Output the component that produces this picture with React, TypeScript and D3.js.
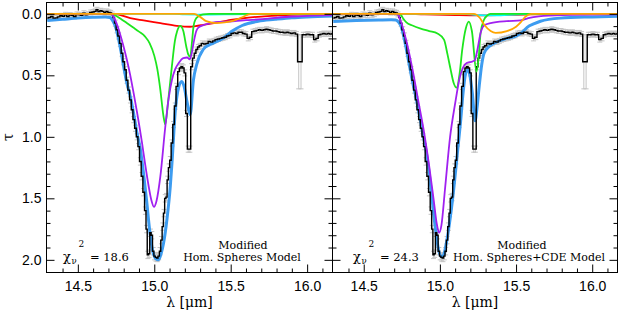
import React, { useEffect, useRef } from "react";
import * as d3 from "d3";

const WIDTH = 623;
const HEIGHT = 312;

// observed optical depth of the band: [wavelength (um), tau, sigma]
const observed = [
  [14.300, 0.035, 0.02], [14.315, 0.030, 0.02], [14.330, 0.022, 0.02], [14.345, 0.035, 0.02],
  [14.360, 0.033, 0.02], [14.375, 0.025, 0.02], [14.390, 0.016, 0.02], [14.405, 0.020, 0.02],
  [14.420, 0.008, 0.02], [14.435, 0.022, 0.02], [14.450, 0.010, 0.02], [14.465, 0.015, 0.02],
  [14.480, 0.022, 0.02], [14.495, 0.005, 0.02], [14.510, 0.008, 0.02], [14.525, 0.012, 0.02],
  [14.540, -0.005, 0.02], [14.555, 0.008, 0.02], [14.570, 0.003, 0.02], [14.585, -0.011, 0.02],
  [14.600, -0.015, 0.02], [14.613, -0.020, 0.02], [14.625, -0.033, 0.02], [14.638, -0.018, 0.02],
  [14.651, -0.025, 0.02], [14.664, -0.020, 0.02], [14.677, -0.010, 0.02], [14.690, -0.020, 0.02],
  [14.703, -0.012, 0.02], [14.715, -0.008, 0.02], [14.725, 0.005, 0.02],
  [14.735, 0.030, 0.025], [14.745, 0.076, 0.025], [14.756, 0.130, 0.025], [14.767, 0.180, 0.025],
  [14.778, 0.240, 0.025], [14.789, 0.320, 0.025], [14.800, 0.390, 0.025], [14.811, 0.455, 0.025],
  [14.822, 0.540, 0.025], [14.833, 0.620, 0.025], [14.844, 0.700, 0.025], [14.855, 0.780, 0.025],
  [14.866, 0.860, 0.025], [14.877, 0.930, 0.025], [14.888, 1.000, 0.025], [14.898, 1.080, 0.025],
  [14.909, 1.200, 0.03], [14.920, 1.320, 0.03], [14.931, 1.450, 0.03], [14.942, 1.600, 0.03],
  [14.950, 1.750, 0.03], [14.958, 1.960, 0.03], [14.966, 1.950, 0.03], [14.975, 1.780, 0.03],
  [14.984, 1.800, 0.03], [14.993, 1.930, 0.03], [15.002, 1.970, 0.03], [15.011, 1.980, 0.03],
  [15.020, 1.985, 0.03], [15.029, 1.970, 0.03], [15.038, 1.930, 0.03], [15.047, 1.840, 0.03],
  [15.056, 1.730, 0.03], [15.064, 1.620, 0.03], [15.072, 1.500, 0.03], [15.080, 1.490, 0.03],
  [15.088, 1.350, 0.03], [15.097, 1.250, 0.03], [15.105, 1.190, 0.03], [15.116, 1.050, 0.025],
  [15.126, 0.900, 0.025], [15.137, 0.750, 0.025], [15.148, 0.590, 0.025], [15.159, 0.470, 0.025],
  [15.170, 0.440, 0.025], [15.180, 0.430, 0.025], [15.190, 0.440, 0.025], [15.200, 0.480, 0.025],
  [15.211, 0.810, 0.025], [15.222, 1.100, 0.025], [15.233, 1.100, 0.025], [15.244, 0.430, 0.025],
  [15.256, 0.360, 0.02], [15.267, 0.320, 0.02], [15.278, 0.290, 0.02], [15.289, 0.270, 0.02],
  [15.300, 0.260, 0.02], [15.315, 0.240, 0.02], [15.330, 0.245, 0.02], [15.345, 0.240, 0.02],
  [15.360, 0.225, 0.02], [15.375, 0.230, 0.02], [15.390, 0.220, 0.02], [15.405, 0.210, 0.02],
  [15.420, 0.205, 0.02], [15.435, 0.200, 0.02], [15.450, 0.195, 0.02], [15.465, 0.190, 0.02],
  [15.480, 0.180, 0.02], [15.495, 0.175, 0.02], [15.510, 0.160, 0.02], [15.525, 0.155, 0.02],
  [15.540, 0.160, 0.02], [15.555, 0.150, 0.02], [15.570, 0.150, 0.02], [15.585, 0.160, 0.02],
  [15.600, 0.165, 0.02], [15.615, 0.200, 0.02], [15.630, 0.190, 0.02], [15.645, 0.145, 0.02],
  [15.660, 0.140, 0.02], [15.675, 0.135, 0.02], [15.690, 0.130, 0.02], [15.705, 0.135, 0.02],
  [15.720, 0.130, 0.02], [15.735, 0.125, 0.02], [15.750, 0.130, 0.02], [15.765, 0.135, 0.02],
  [15.780, 0.140, 0.02], [15.795, 0.140, 0.02], [15.810, 0.145, 0.02], [15.825, 0.150, 0.02],
  [15.840, 0.150, 0.02], [15.855, 0.155, 0.02], [15.870, 0.150, 0.02], [15.885, 0.155, 0.02],
  [15.900, 0.160, 0.02], [15.915, 0.155, 0.02], [15.930, 0.165, 0.02], [15.945, 0.390, 0.22],
  [15.960, 0.390, 0.22], [15.975, 0.170, 0.02], [15.990, 0.170, 0.02], [16.005, 0.165, 0.02],
  [16.020, 0.170, 0.02], [16.035, 0.170, 0.02], [16.050, 0.210, 0.02], [16.065, 0.200, 0.02],
  [16.080, 0.170, 0.02], [16.095, 0.165, 0.02], [16.110, 0.160, 0.02], [16.125, 0.165, 0.02],
  [16.140, 0.160, 0.02], [16.155, 0.165, 0.02], [16.170, 0.160, 0.02],
];

// model A: modified homogeneous spheres
const homTotal = [
  [14.30, 0.055], [14.40, 0.045], [14.50, 0.035], [14.60, 0.028], [14.68, 0.025], [14.71, 0.03],
  [14.73, 0.06], [14.745, 0.10], [14.76, 0.17], [14.78, 0.29], [14.80, 0.43], [14.82, 0.56],
  [14.843, 0.67], [14.865, 0.81], [14.887, 0.97], [14.909, 1.1], [14.93, 1.3], [14.95, 1.52],
  [14.97, 1.76], [14.99, 1.93], [15.01, 1.99], [15.028, 2.0], [15.045, 1.95], [15.06, 1.87],
  [15.083, 1.67], [15.105, 1.40], [15.117, 1.19], [15.137, 0.80], [15.159, 0.60], [15.18, 0.55],
  [15.195, 0.59], [15.215, 0.72], [15.235, 0.82], [15.256, 0.54], [15.278, 0.41], [15.32, 0.29],
  [15.365, 0.25], [15.41, 0.225], [15.46, 0.19], [15.51, 0.14], [15.575, 0.095], [15.68, 0.06],
  [15.79, 0.045], [15.90, 0.032], [16.00, 0.025], [16.17, 0.018],
];
const homPurple = [
  [14.30, 0], [14.72, 0], [14.74, 0.04], [14.76, 0.10], [14.78, 0.18], [14.80, 0.27], [14.82, 0.37],
  [14.843, 0.50], [14.865, 0.645], [14.89, 0.82], [14.92, 1.05], [14.94, 1.22], [14.963, 1.40],
  [14.98, 1.51], [14.998, 1.57], [15.015, 1.52], [15.04, 1.32], [15.072, 0.92], [15.095, 0.68],
  [15.115, 0.54], [15.137, 0.45], [15.16, 0.40], [15.19, 0.36], [15.215, 0.355], [15.232, 0.37],
  [15.245, 0.32], [15.258, 0.23], [15.275, 0.14], [15.29, 0.11], [15.333, 0.087], [15.376, 0.073],
  [15.45, 0.065], [15.528, 0.06], [15.60, 0.052], [15.68, 0.046], [15.79, 0.033], [15.90, 0.022],
  [16.00, 0.016], [16.17, 0.01],
];
const homGreen = [
  [14.30, 0], [14.72, 0], [14.74, 0.01], [14.78, 0.04], [14.82, 0.075], [14.86, 0.11], [14.90, 0.145],
  [14.94, 0.185], [14.97, 0.24], [15.00, 0.34], [15.02, 0.45], [15.04, 0.62], [15.06, 0.83],
  [15.072, 0.90], [15.09, 0.72], [15.115, 0.43], [15.135, 0.22], [15.15, 0.14], [15.17, 0.098],
  [15.19, 0.14], [15.21, 0.27], [15.222, 0.33], [15.235, 0.35], [15.246, 0.24], [15.257, 0.10],
  [15.27, 0.045], [15.289, 0.02], [15.32, 0.005], [15.36, 0], [16.17, 0],
];
const homRed = [
  [14.30, 0], [14.72, 0], [14.76, 0.005], [14.843, 0.035], [14.93, 0.054], [15.04, 0.076],
  [15.148, 0.098], [15.235, 0.105], [15.27, 0.10], [15.32, 0.09], [15.40, 0.073], [15.45, 0.062],
  [15.50, 0.05], [15.57, 0.038], [15.70, 0.022], [15.80, 0.014], [15.90, 0.008], [16.17, 0.003],
];
const homOrange = [
  [14.30, 0], [15.26, 0], [15.30, 0.025], [15.34, 0.06], [15.40, 0.075], [15.46, 0.07],
  [15.52, 0.055], [15.57, 0.03], [15.61, 0.008], [15.64, 0], [16.17, 0],
];
const homCyan = [
  [14.30, 0], [15.12, 0], [15.20, 0.004], [15.35, 0.006], [15.50, 0.004], [15.62, 0.002], [15.70, 0], [16.17, 0],
];

// model B: modified homogeneous spheres + CDE
const cdeTotal = [
  [14.30, 0.063], [14.45, 0.055], [14.60, 0.05], [14.68, 0.048], [14.71, 0.05], [14.73, 0.07],
  [14.745, 0.10], [14.76, 0.17], [14.78, 0.29], [14.80, 0.42], [14.82, 0.55], [14.843, 0.68],
  [14.865, 0.82], [14.887, 0.97], [14.91, 1.12], [14.93, 1.30], [14.95, 1.52], [14.97, 1.74],
  [14.99, 1.91], [15.005, 1.97], [15.02, 1.97], [15.04, 1.88], [15.06, 1.73], [15.093, 1.40],
  [15.115, 1.13], [15.137, 0.86], [15.152, 0.645], [15.17, 0.48], [15.182, 0.455], [15.197, 0.50],
  [15.213, 0.645], [15.231, 0.87], [15.245, 0.75], [15.258, 0.59], [15.275, 0.41], [15.29, 0.32],
  [15.324, 0.265], [15.38, 0.225], [15.44, 0.20], [15.508, 0.175], [15.545, 0.145], [15.573, 0.11],
  [15.62, 0.08], [15.66, 0.06], [15.79, 0.035], [16.00, 0.025], [16.17, 0.02],
];
const cdePurple = [
  [14.30, 0], [14.72, 0], [14.74, 0.05], [14.78, 0.22], [14.82, 0.45], [14.86, 0.72], [14.89, 0.92],
  [14.93, 1.24], [14.96, 1.52], [14.98, 1.71], [14.995, 1.78], [15.01, 1.72], [15.034, 1.42],
  [15.067, 1.00], [15.10, 0.73], [15.132, 0.51], [15.176, 0.40], [15.205, 0.39], [15.228, 0.38],
  [15.245, 0.30], [15.267, 0.157], [15.29, 0.095], [15.333, 0.076], [15.44, 0.06], [15.53, 0.054],
  [15.58, 0.035], [15.65, 0.02], [15.80, 0.01], [16.17, 0.005],
];
const cdeGreen = [
  [14.30, 0], [14.735, 0], [14.745, 0.01], [14.76, 0.04], [14.78, 0.07], [14.82, 0.095],
  [14.874, 0.12], [14.93, 0.14], [14.984, 0.16], [15.027, 0.21], [15.05, 0.33], [15.07, 0.45],
  [15.09, 0.56], [15.11, 0.60], [15.13, 0.48], [15.147, 0.29], [15.17, 0.12], [15.19, 0.063],
  [15.21, 0.14], [15.24, 0.47], [15.255, 0.35], [15.267, 0.157], [15.289, 0.05], [15.31, 0.015],
  [15.33, 0], [16.17, 0],
];
const cdeRed = [
  [14.30, 0], [14.74, 0], [14.90, 0.005], [15.10, 0.01], [15.25, 0.012], [15.40, 0.01],
  [15.60, 0.005], [15.80, 0.002], [16.17, 0],
];
const cdeOrange = [
  [14.30, 0], [15.223, 0], [15.26, 0.03], [15.29, 0.087], [15.333, 0.14], [15.366, 0.155],
  [15.44, 0.14], [15.50, 0.105], [15.53, 0.07], [15.56, 0.025], [15.60, 0], [16.17, 0],
];
const cdeCyan = [
  [14.30, 0], [15.15, 0], [15.25, 0.01], [15.35, 0.012], [15.45, 0.008], [15.55, 0.003], [15.65, 0], [16.17, 0],
];

const xMajorTicks = [14.5, 15.0, 15.5, 16.0];
const xMinorTicks = [14.4, 14.6, 14.7, 14.8, 14.9, 15.1, 15.2, 15.3, 15.4, 15.6, 15.7, 15.8, 15.9, 16.1];
const yMajorTicks = [0.0, 0.5, 1.0, 1.5, 2.0];
const yMinorTicks = [0.1, 0.2, 0.3, 0.4, 0.6, 0.7, 0.8, 0.9, 1.1, 1.2, 1.3, 1.4, 1.6, 1.7, 1.8, 1.9];

const panels = [
  {
    id: "hom", left: 46.5, right: 332.5, yLabels: true,
    total: homTotal, purple: homPurple, green: homGreen, red: homRed, orange: homOrange, cyan: homCyan,
    chi: "18.6", chiX: 63, line1: "Modified", line1X: 243, line2: "Hom. Spheres Model", line2X: 242,
  },
  {
    id: "cde", left: 332.5, right: 617.5, yLabels: false,
    total: cdeTotal, purple: cdePurple, green: cdeGreen, red: cdeRed, orange: cdeOrange, cyan: cdeCyan,
    chi: "24.3", chiX: 353, line1: "Modified", line1X: 522, line2: "Hom. Spheres+CDE Model", line2X: 529,
  },
];

const TOP = 2.5;
const BOTTOM = 272.5;
const SANS = "'Liberation Sans', Arial, Helvetica, sans-serif";
const SERIF = "'DejaVu Serif', serif";

const App = () => {
  const svgRef = useRef(null);

  useEffect(() => {
    const svg = d3.select(svgRef.current);
    svg.selectAll("*").remove();

    const y = d3.scaleLinear().domain([-0.092, 2.103]).range([TOP, BOTTOM]);
    const defs = svg.append("defs");

    panels.forEach((p) => {
      const x = d3.scaleLinear().domain([14.295, 16.166]).range([p.left, p.right]);

      defs.append("clipPath").attr("id", `clip-${p.id}`)
        .append("rect")
        .attr("x", p.left).attr("y", TOP)
        .attr("width", p.right - p.left).attr("height", BOTTOM - TOP);

      const plot = svg.append("g").attr("clip-path", `url(#clip-${p.id})`);

      // error bars
      const err = plot.append("g").attr("stroke", "#c4c4c4").attr("stroke-width", 1);
      observed.forEach((d) => {
        const cx = x(d[0]);
        err.append("line").attr("x1", cx).attr("x2", cx).attr("y1", y(d[1] - d[2])).attr("y2", y(d[1] + d[2]));
        err.append("line").attr("x1", cx - 2.5).attr("x2", cx + 2.5).attr("y1", y(d[1] - d[2])).attr("y2", y(d[1] - d[2]));
        err.append("line").attr("x1", cx - 2.5).attr("x2", cx + 2.5).attr("y1", y(d[1] + d[2])).attr("y2", y(d[1] + d[2]));
      });

      const smooth = d3.line().x((d) => x(d[0])).y((d) => y(d[1])).curve(d3.curveMonotoneX);
      const step = d3.line().x((d) => x(d[0])).y((d) => y(d[1])).curve(d3.curveStep);

      plot.append("path").attr("d", smooth(p.total)).attr("fill", "none")
        .attr("stroke", "#3d9cf0").attr("stroke-width", 3);
      plot.append("path").attr("d", step(observed)).attr("fill", "none")
        .attr("stroke", "#000").attr("stroke-width", 1.4);

      const comps = [
        [p.red, "#ff0000"],
        [p.cyan, "#00ffff"],
        [p.green, "#1ee61e"],
        [p.purple, "#a020f0"],
        [p.orange, "#ffa500"],
      ];
      comps.forEach(([data, color]) => {
        plot.append("path").attr("d", smooth(data)).attr("fill", "none")
          .attr("stroke", color).attr("stroke-width", 1.8);
      });

      // frame
      svg.append("rect").attr("x", p.left).attr("y", TOP)
        .attr("width", p.right - p.left).attr("height", BOTTOM - TOP)
        .attr("fill", "none").attr("stroke", "#000").attr("stroke-width", 1);

      const styleAxis = (g) => {
        g.select(".domain").remove();
        g.selectAll(".tick line").attr("stroke", "#000");
        g.attr("font-family", SANS).attr("font-size", 14);
        g.selectAll("text").attr("fill", "#000");
      };

      // x axes (ticks inward)
      svg.append("g").attr("transform", `translate(0,${BOTTOM})`)
        .call(d3.axisBottom(x).tickValues(xMajorTicks).tickSize(-8).tickPadding(9).tickFormat(d3.format(".1f")))
        .call(styleAxis);
      svg.append("g").attr("transform", `translate(0,${BOTTOM})`)
        .call(d3.axisBottom(x).tickValues(xMinorTicks).tickSize(-4).tickFormat(() => ""))
        .call(styleAxis);
      svg.append("g").attr("transform", `translate(0,${TOP})`)
        .call(d3.axisTop(x).tickValues(xMajorTicks).tickSize(-8).tickFormat(() => ""))
        .call(styleAxis);
      svg.append("g").attr("transform", `translate(0,${TOP})`)
        .call(d3.axisTop(x).tickValues(xMinorTicks).tickSize(-4).tickFormat(() => ""))
        .call(styleAxis);

      // y axes
      svg.append("g").attr("transform", `translate(${p.left},0)`)
        .call(d3.axisLeft(y).tickValues(yMajorTicks).tickSize(-8).tickPadding(5)
          .tickFormat(p.yLabels ? d3.format(".1f") : () => ""))
        .call(styleAxis);
      svg.append("g").attr("transform", `translate(${p.left},0)`)
        .call(d3.axisLeft(y).tickValues(yMinorTicks).tickSize(-4).tickFormat(() => ""))
        .call(styleAxis);
      svg.append("g").attr("transform", `translate(${p.right},0)`)
        .call(d3.axisRight(y).tickValues(yMajorTicks).tickSize(-8).tickFormat(() => ""))
        .call(styleAxis);
      svg.append("g").attr("transform", `translate(${p.right},0)`)
        .call(d3.axisRight(y).tickValues(yMinorTicks).tickSize(-4).tickFormat(() => ""))
        .call(styleAxis);

      // x label
      svg.append("text").attr("x", (p.left + p.right) / 2).attr("y", 307)
        .attr("text-anchor", "middle").attr("font-family", SERIF).attr("font-size", 14)
        .text("λ [μm]");

      // reduced chi-square
      svg.append("text").attr("x", p.chiX).attr("y", 261).attr("font-family", SERIF).attr("font-size", 13).text("χ");
      svg.append("text").attr("x", p.chiX + 8.5).attr("y", 263.5).attr("font-family", SERIF).attr("font-size", 8.5).text("ν");
      svg.append("text").attr("x", p.chiX + 15.5).attr("y", 247).attr("font-family", SERIF).attr("font-size", 9).text("2");
      svg.append("text").attr("x", p.chiX + 27).attr("y", 261).attr("font-family", SERIF).attr("font-size", 11.5)
        .text(`= ${p.chi}`);

      // model name
      svg.append("text").attr("x", p.line1X).attr("y", 249).attr("text-anchor", "middle")
        .attr("font-family", SERIF).attr("font-size", 11).text(p.line1);
      svg.append("text").attr("x", p.line2X).attr("y", 261).attr("text-anchor", "middle")
        .attr("font-family", SERIF).attr("font-size", 11).text(p.line2);
    });

    // y label
    svg.append("text").attr("transform", "translate(13,137) rotate(-90)")
      .attr("text-anchor", "middle").attr("font-family", SERIF).attr("font-size", 14)
      .text("τ");
  }, []);

  return (
    <svg
      ref={svgRef}
      width={WIDTH}
      height={HEIGHT}
      style={{ position: "absolute", left: 0, top: 0, background: "#fff" }}
    />
  );
};

export default App;
